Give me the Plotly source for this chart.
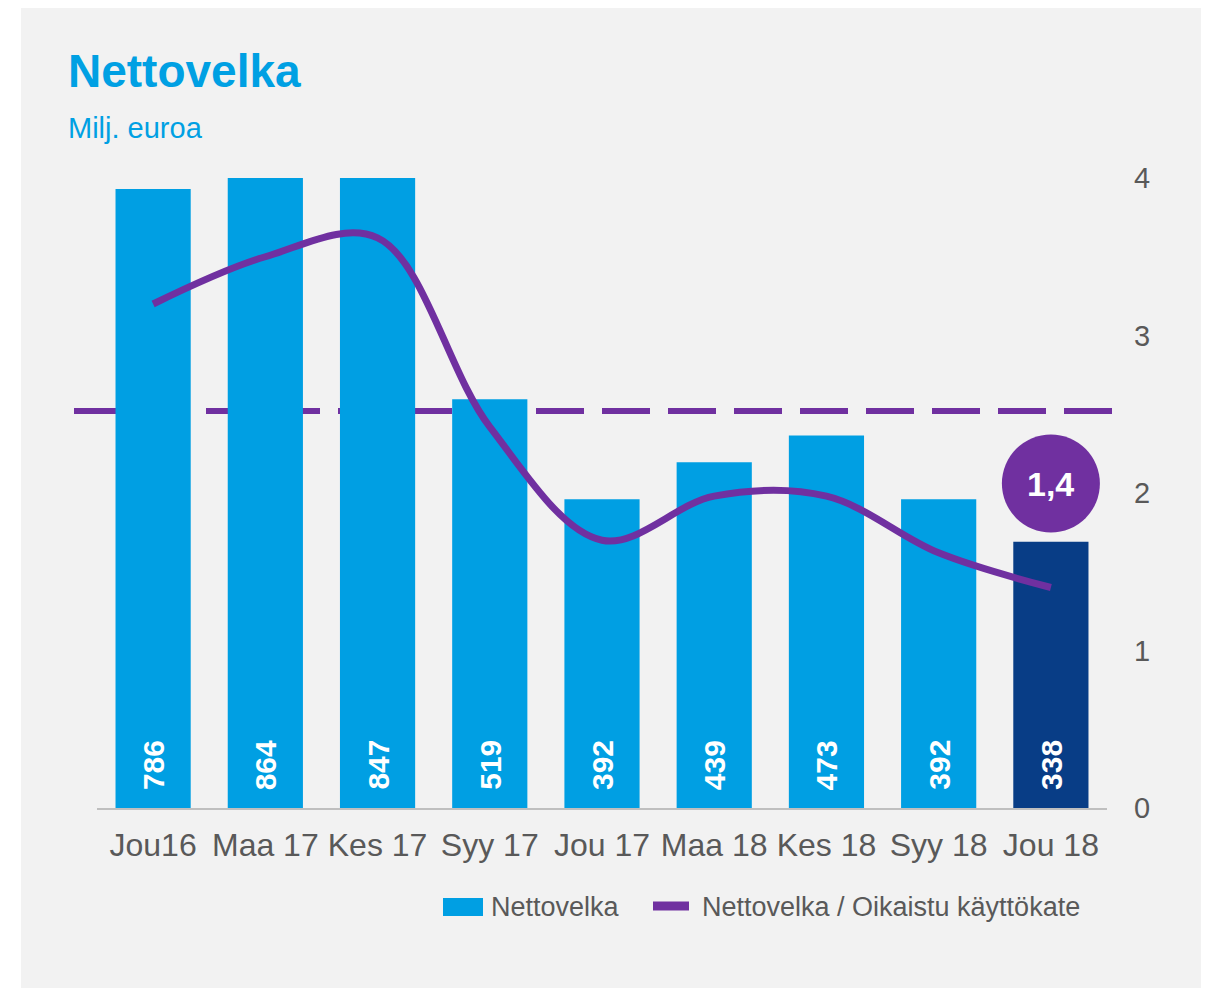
import plotly.graph_objects as go

# data
kaudet = ['Jou16', 'Maa 17', 'Kes 17', 'Syy 17', 'Jou 17', 'Maa 18', 'Kes 18', 'Syy 18', 'Jou 18']
nettovelka = [786, 864, 847, 519, 392, 439, 473, 392, 338]
suhde = [3.2, 3.5, 3.62, 2.42, 1.7, 1.98, 1.98, 1.62, 1.4]
tavoite = 2.52
nimi_bar = 'Nettovelka'
nimi_line = 'Nettovelka / Oikaistu käyttökate'

BLUE = '#009FE3'
NAVY = '#083D86'
PURPLE = '#7030A0'
GREY_TXT = '#595959'
FONT = 'Arial, Liberation Sans, sans-serif'

# page has an 8px body margin, so screen coords are shifted by OFF
OFF = 8
W, H = 1214, 988
L, T = 97 - OFF, 178 - OFF
R, B = W - (1107 - OFF), H - (808 - OFF)
PW, PH = W - L - R, H - T - B


def px_x(sx):
    return (sx - OFF - L) / PW


def px_y(sy):
    return (H - B - (sy - OFF)) / PH


bar_colors = [BLUE] * (len(kaudet) - 1) + [NAVY]

fig = go.Figure()
fig.add_trace(go.Bar(
    x=kaudet, y=nettovelka, name=nimi_bar,
    marker=dict(color=bar_colors, line_width=0),
    cliponaxis=True, yaxis='y', hoverinfo='x+y',
))
fig.add_trace(go.Scatter(
    x=kaudet, y=suhde, name=nimi_line,
    mode='lines', line=dict(color=PURPLE, width=7, shape='spline', smoothing=1.0),
    yaxis='y2',
))

# value labels at the bar bases
annots = []
for k, v in zip(kaudet, nettovelka):
    annots.append(dict(
        text='<b>%d</b>' % v, xref='x', yref='y', x=k, y=0,
        yanchor='bottom', yshift=16, textangle=-90, showarrow=False,
        font=dict(size=30, color='white'),
    ))

annots += [
    dict(text='<b>Nettovelka</b>', xref='paper', yref='paper',
         x=px_x(66), y=px_y(71), xanchor='left', yanchor='middle', showarrow=False,
         font=dict(size=46, color='#00A0E3')),
    dict(text='Milj. euroa', xref='paper', yref='paper',
         x=px_x(66), y=px_y(128), xanchor='left', yanchor='middle', showarrow=False,
         font=dict(size=29, color='#00A0E3')),
    dict(text='<b>' + ('%.1f' % suhde[-1]).replace('.', ',') + '</b>',
         xref='x', yref='y2', x=kaudet[-1], y=suhde[-1], yshift=104,
         showarrow=False, font=dict(size=34, color='white')),
    # legend texts
    dict(text=nimi_bar, xref='paper', yref='paper', x=px_x(489), y=px_y(907),
         xanchor='left', yanchor='middle', showarrow=False,
         font=dict(size=27, color=GREY_TXT)),
    dict(text=nimi_line, xref='paper', yref='paper', x=px_x(700), y=px_y(907),
         xanchor='left', yanchor='middle', showarrow=False,
         font=dict(size=27, color=GREY_TXT)),
]

fig.update_layout(
    width=W, height=H,
    margin=dict(l=L, r=R, t=T, b=B),
    paper_bgcolor='white',
    plot_bgcolor='rgba(0,0,0,0)',
    font=dict(family=FONT, color=GREY_TXT),
    bargap=0.33,
    showlegend=False,
    xaxis=dict(
        type='category', showgrid=False, showline=True, linecolor='#BFBFBF', linewidth=2,
        tickfont=dict(size=32, color=GREY_TXT), ticks='', ticklabelstandoff=8,
    ),
    yaxis=dict(range=[0, 800], visible=False, fixedrange=True),
    yaxis2=dict(
        range=[0, 4], overlaying='y', side='right', showgrid=False, zeroline=False,
        tickvals=[0, 1, 2, 3, 4], tickfont=dict(size=29, color=GREY_TXT),
        ticks='', ticklabelstandoff=26,
    ),
    shapes=[
        # grey panel
        dict(type='rect', xref='paper', yref='paper', layer='below',
             x0=px_x(21), x1=px_x(1201), y0=px_y(996), y1=px_y(2),
             fillcolor='#F2F2F2', line_width=0),
        # target ratio, dashed
        dict(type='line', xref='paper', yref='paper', layer='below',
             x0=px_x(74), x1=px_x(1114), y0=tavoite / 4, y1=tavoite / 4,
             line=dict(color=PURPLE, width=6, dash='48px,18px')),
        # bubble for latest ratio
        dict(type='circle', xref='x', yref='y2', layer='above',
             xsizemode='pixel', ysizemode='pixel',
             xanchor=kaudet[-1], yanchor=suhde[-1],
             x0=-49, x1=49, y0=55, y1=153,
             fillcolor=PURPLE, line_width=0),
        # legend swatches
        dict(type='rect', xref='paper', yref='paper',
             x0=px_x(443), x1=px_x(483), y0=px_y(916), y1=px_y(898),
             fillcolor=BLUE, line_width=0),
        dict(type='line', xref='paper', yref='paper',
             x0=px_x(653), x1=px_x(689), y0=px_y(906), y1=px_y(906),
             line=dict(color=PURPLE, width=9)),
    ],
    annotations=annots,
)

fig.write_html('out.html')
